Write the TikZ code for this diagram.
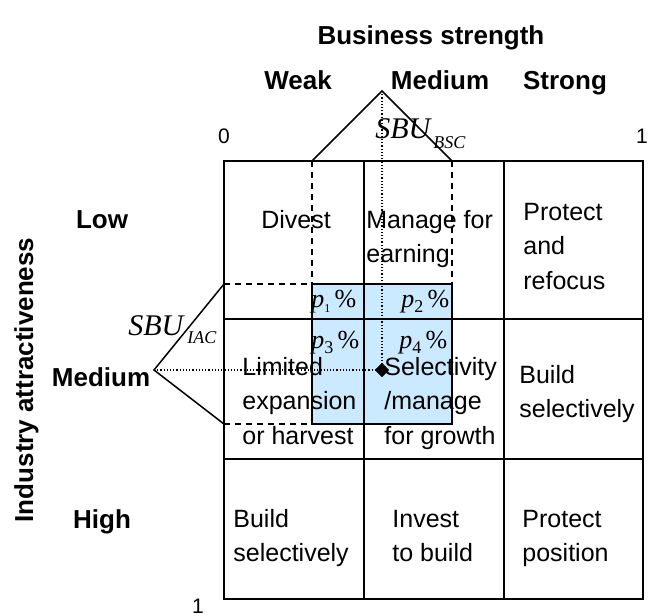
\documentclass[tikz,border=0pt]{standalone}
\usepackage{fontspec}
\setmainfont{Liberation Sans}
\newfontfamily\tms{Liberation Serif}
\definecolor{sharefill}{RGB}{204,234,255}
\newcommand{\pct}[2][9]{{\tms\itshape p}{\tms\fontsize{#1}{#1}\selectfont\raisebox{-2.5pt}{#2}}\,{\tms\%}}
\newcommand{\rows}[1]{\begin{tabular}[t]{@{}l@{}}#1\end{tabular}}

\begin{document}
\begin{tikzpicture}[x=0.5pt, y=-0.5pt,
    cell/.style={inner sep=0pt, anchor=base west, font=\fontsize{12.5}{17.25}\selectfont},
    axislabel/.style={inner sep=0pt, anchor=base, font=\bfseries\fontsize{13}{15}\selectfont},
    tick/.style={inner sep=0pt, anchor=base, font=\fontsize{10.5}{12}\selectfont},
    sbu/.style={inner sep=0pt, anchor=base west, font=\tms\itshape\fontsize{15}{17}\selectfont},
    share/.style={inner sep=0pt, anchor=base west, font=\fontsize{13}{15}\selectfont},
    dashedline/.style={line width=0.75pt, dash pattern=on 3pt off 2.5pt},
    dottedline/.style={line width=0.6pt, dash pattern=on 0.6pt off 1pt}]
            \useasboundingbox (0,0) rectangle (649,616);

            \coordinate (topapex) at (382,91);
            \coordinate (leftapex) at (154,370);
            \coordinate (sbu) at (382,370);

            \fill[sharefill] (312,284) rectangle (452,424);

            \draw[line width=1pt] (224,161) rectangle (643,599);
            \draw[line width=1pt] (364,161) -- (364,599);
            \draw[line width=1pt] (504,161) -- (504,599);
            \draw[line width=1pt] (224,319) -- (643,319);
            \draw[line width=1pt] (224,459) -- (643,459);

            \draw[line width=1pt] (312,284) rectangle (452,424);

            \draw[line width=0.75pt] (312,161) -- (topapex) -- (452,161);
            \draw[line width=0.75pt] (224,284) -- (leftapex) -- (224,424);
            \draw[dashedline] (312,161) -- (312,284);
            \draw[dashedline] (452,161) -- (452,284);
            \draw[dashedline] (224,284) -- (312,284);
            \draw[dashedline] (224,424) -- (312,424);
            \draw[dottedline] (topapex) -- (sbu);
            \draw[dottedline] (leftapex) -- (sbu);
            \filldraw[black] (sbu) +(-6.5,0) -- +(0,-6.5) -- +(6.5,0) -- +(0,6.5) -- cycle;

            \node[axislabel] (bs) at (431,44) {Business strength};
            \node[axislabel] (weak) at (298,89) {Weak};
            \node[axislabel] (medium) at (440,89) {Medium};
            \node[axislabel] (strong) at (565,89) {Strong};
            \node[axislabel] (low) at (102,228) {Low};
            \node[axislabel] (mid) at (101,386) {Medium};
            \node[axislabel] (high) at (102,528) {High};
            \node[axislabel, rotate=90] (ia) at (33,380) {Industry attractiveness};

            \node[tick] (zero) at (224,143) {0};
            \node[tick] (onex) at (642,143) {1};
            \node[tick] (oney) at (198,613) {1};

            \node[sbu] (sbubsc) at (375,138) {SBU\kern1.5pt\raisebox{-5pt}{\fontsize{9}{9}\selectfont BSC}};
            \node[sbu] (sbuiac) at (128,335) {SBU\kern2pt\raisebox{-4pt}{\fontsize{9}{9}\selectfont IAC}};

            \node[share] (p1) at (311,307) {\pct[6]{1}};
            \node[share] (p2) at (401,307) {\pct{2}};
            \node[share] (p3) at (311,348) {\pct{3}};
            \node[share] (p4) at (399,348) {\pct{4}};

            \node[cell, anchor=base] (divest) at (296,228) {Divest};
            \node[cell] (manage) at (366,228) {\rows{Manage for\\earning}};
            \node[cell] (refocus) at (523,220) {\rows{Protect\\and\\refocus}};
            \node[cell] (limited) at (242,375) {\rows{Limited\\expansion\\or harvest}};
            \node[cell] (selective) at (384,375) {\rows{Selectivity\\/manage\\for growth}};
            \node[cell] (buildsel) at (519,383) {\rows{Build\\selectively}};
            \node[cell] (buildhigh) at (233,527) {\rows{Build\\selectively}};
            \node[cell] (invest) at (392,527) {\rows{Invest\\to build}};
            \node[cell] (position) at (522,527) {\rows{Protect\\position}};
        \end{tikzpicture}
\end{document}
